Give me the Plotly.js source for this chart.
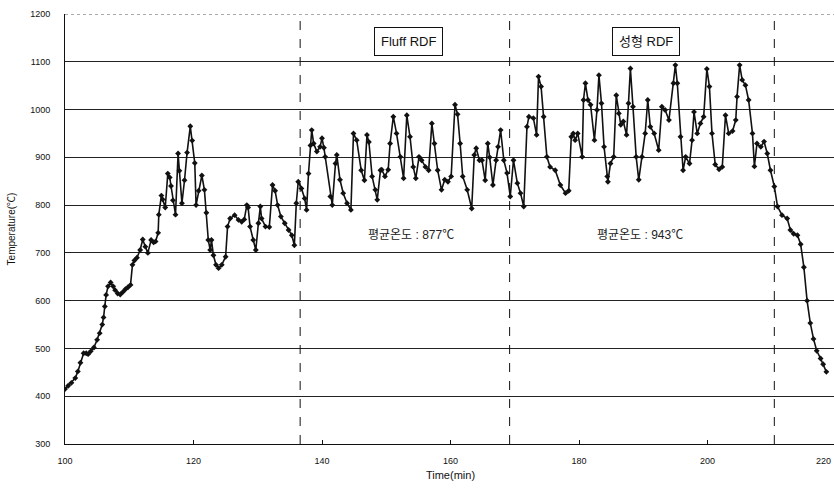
<!DOCTYPE html>
<html>
<head>
<meta charset="utf-8">
<script src="https://cdn.plot.ly/plotly-3.0.1.min.js"></script>
<style>
html,body{margin:0;padding:0;background:#fff;overflow:hidden;width:834px;height:489px;}
#chart{width:840px;height:489px;}
</style>
</head>
<body>
<div id="chart"></div>
<script>
// Time (min)
const timeMin = [
100.0,100.5,101.0,101.6,102.0,102.4,102.9,103.3,103.6,104.0,104.5,105.0,105.4,105.8,106.0,106.2,106.4,106.7,107.1,107.5,
107.8,108.2,108.6,109.0,109.4,109.8,110.2,110.5,110.8,111.2,111.7,112.1,112.5,112.9,113.4,113.8,114.1,114.5,114.6,115.0,
115.2,115.6,116.0,116.3,116.5,116.8,117.2,117.6,117.8,118.2,118.6,119.0,119.5,119.8,120.2,120.4,120.8,121.3,121.7,122.0,
122.3,122.6,122.8,123.1,123.5,123.9,124.4,125.0,125.3,125.7,126.4,127.0,127.5,127.9,128.3,128.5,128.8,129.3,129.7,130.1,
130.4,130.6,131.2,131.8,132.3,132.7,133.1,133.6,134.2,134.8,135.3,135.7,136.0,136.3,136.8,137.3,137.6,137.9,138.2,138.4,
138.7,139.2,139.7,140.0,140.3,140.5,141.3,141.6,142.1,142.3,142.8,143.3,143.9,144.5,144.9,145.4,146.1,146.6,147.0,147.3,
147.8,148.3,148.6,149.1,149.3,149.8,150.3,150.6,151.1,151.6,152.2,152.7,153.2,153.7,154.2,154.6,155.1,155.5,156.1,156.6,
157.1,157.5,158.0,158.6,159.1,159.6,160.1,160.7,161.1,161.5,161.9,162.6,163.3,163.7,164.0,164.5,164.9,165.4,165.8,166.1,
166.6,167.1,167.4,167.8,168.3,168.8,169.3,169.8,170.4,170.9,171.4,171.9,172.2,172.9,173.4,173.7,174.1,174.5,175.0,175.5,
176.3,177.1,177.9,178.4,178.8,179.1,179.4,179.8,180.5,180.7,181.0,181.4,181.8,182.4,182.8,183.1,183.5,183.9,184.4,184.5,
184.9,185.4,185.8,186.2,186.5,186.9,187.4,187.7,188.0,188.4,188.9,189.3,189.8,190.3,190.7,191.1,191.7,192.4,192.9,193.4,
194.0,194.7,195.0,195.3,195.8,196.2,196.6,197.2,197.6,197.9,198.4,198.9,199.4,199.9,200.3,200.7,201.2,201.8,202.3,202.8,
203.3,203.9,204.4,204.6,205.0,205.4,205.9,206.4,207.0,207.3,207.7,208.3,208.8,209.3,209.8,210.4,210.9,211.6,212.4,212.9,
213.4,214.0,214.5,215.0,215.5,216.0,216.5,217.0,217.6,218.0,218.5
];
// Temperature (℃)
const temperature = [
415,422,428,438,452,470,490,490,488,494,502,518,532,550,565,588,612,630,638,630,
622,615,613,618,624,628,633,675,684,690,706,728,713,700,727,722,724,742,780,820,
812,795,866,858,840,810,780,908,872,804,852,910,965,935,888,800,830,862,832,784,
727,706,727,695,675,668,675,692,755,772,779,769,765,770,800,795,755,727,706,762,
797,772,755,754,842,830,800,776,762,748,737,716,804,849,835,814,790,866,925,957,
929,912,922,940,920,901,818,800,887,905,853,825,804,790,950,936,873,852,947,932,
860,832,811,873,874,860,874,929,985,950,901,856,988,943,880,856,901,894,880,873,
971,929,873,832,853,849,860,1010,990,929,860,832,793,905,919,894,894,852,929,900,
842,894,922,957,894,867,818,894,846,825,797,964,985,982,947,1069,1048,985,901,880,
873,842,825,830,943,950,936,950,901,1020,1055,1020,1010,936,999,1072,1013,922,860,849,
887,901,1030,992,968,975,947,1013,1086,1006,901,853,901,950,1020,964,950,915,1006,999,
978,1055,1093,1055,943,873,901,887,936,995,950,971,985,1085,1048,950,885,875,880,988,
950,955,978,1027,1093,1062,1051,1020,950,881,929,922,933,908,873,839,797,779,772,748,
740,737,718,670,600,553,520,495,479,467,451
];
const xTicks = [100,120,140,160,180,200,220];
const yTicks = [300,400,500,600,700,800,900,1000,1100,1200];
const phaseBoundaries = [136.6, 169.2, 210.4];
const phaseLabels = ["Fluff RDF", "성형 RDF"];
const phaseLabelX = [153.5, 190.4];
const avgLabels = ["평균온도 : 877℃", "평균온도 : 943℃"];
const avgLabelX = [153.9, 189.5];

const trace = {
  x: timeMin, y: temperature, type: 'scatter', mode: 'lines+markers',
  line: {color: '#111', width: 1.6},
  marker: {color: '#111', size: 4.5, symbol: 'diamond'},
  hoverinfo: 'skip', showlegend: false
};

const shapes = [
  {type:'line', xref:'x', yref:'y', x0:100, x1:220, y0:1200, y1:1200, line:{color:'#fff', width:2}},
  {type:'line', xref:'x', yref:'y', x0:100, x1:220, y0:1200, y1:1200, line:{color:'#555', width:1, dash:'dot'}}
];
phaseBoundaries.forEach(b => shapes.push({type:'line', xref:'x', yref:'y', x0:b, x1:b, y0:300, y1:1200,
  line:{color:'#111', width:1, dash:'dash'}}));

const annotations = [];
phaseLabels.forEach((t,i) => annotations.push({x: phaseLabelX[i], y: 1143, xref:'x', yref:'y', text: t, showarrow:false,
  font:{family:'Liberation Sans, Noto Sans CJK KR, sans-serif', size:13, color:'#111'},
  bordercolor:'#111', borderwidth:1, borderpad:6, bgcolor:'#fff'}));
avgLabels.forEach((t,i) => annotations.push({x: avgLabelX[i], y: 737, xref:'x', yref:'y', text: t, showarrow:false,
  font:{family:'Liberation Sans, Noto Sans CJK KR, sans-serif', size:12, color:'#222'}}));
// last tick label, kept inside the visible window
const lastTick = xTicks[xTicks.length-1];
annotations.push({x: 0.996, y: 0, xref:'paper', yref:'paper', yshift:-10, text: String(lastTick), showarrow:false,
  xanchor:'right', yanchor:'top', font:{size:9, family:'Liberation Sans, Arial, sans-serif', color:'#111'}});

const layout = {
  width: 840, height: 489,
  margin: {l:65, r:4, t:14, b:45},
  paper_bgcolor:'#fff', plot_bgcolor:'#fff',
  font:{family:'Liberation Sans, Arial, sans-serif', color:'#111', size:9},
  xaxis: {range:[100,220], tickvals:xTicks, ticktext:xTicks.map(v => v === lastTick ? '' : String(v)), showgrid:false, zeroline:false,
    showline:true, linecolor:'#111', linewidth:1, ticks:'inside', ticklen:4, tickcolor:'#111',
    ticklabelstandoff:8,
    tickfont:{size:9, family:'Liberation Sans, Arial, sans-serif'},
    title:{text:'Time(min)', font:{size:11}, standoff:6}},
  yaxis: {range:[300,1200], tickvals:yTicks, showgrid:true, gridcolor:'#222', gridwidth:1, zeroline:false,
    showline:true, linecolor:'#111', linewidth:1, ticks:'', ticklabelstandoff:12,
    tickfont:{size:9, family:'Liberation Sans, Arial, sans-serif'},
    title:{text:'Temperature(℃)', font:{size:10, family:'Liberation Sans, Noto Sans CJK KR, sans-serif'}, standoff:12}},
  shapes: shapes,
  annotations: annotations
};
Plotly.newPlot('chart', [trace], layout, {displayModeBar:false, staticPlot:true});
</script>
</body>
</html>
